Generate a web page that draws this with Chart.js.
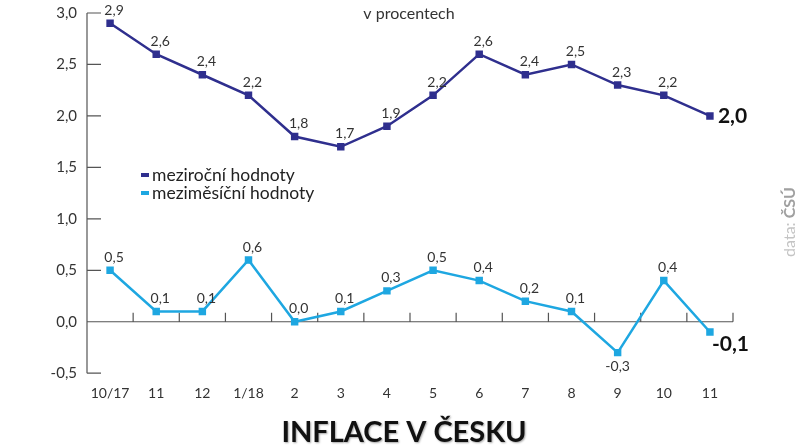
<!DOCTYPE html>
<html>
<head>
<meta charset="utf-8">
<script src="https://cdn.jsdelivr.net/npm/chart.js@4"></script>
<style>
html, body { margin: 0; padding: 0; background: #fff; }
</style>
</head>
<body>
<canvas id="myChart" width="798" height="448"></canvas>
<script>
// data
var mesice = ['10/17', '11', '12', '1/18', '2', '3', '4', '5', '6', '7', '8', '9', '10', '11'];
var mezirocni = [2.9, 2.6, 2.4, 2.2, 1.8, 1.7, 1.9, 2.2, 2.6, 2.4, 2.5, 2.3, 2.2, 2.0];
var mezimesicni = [0.5, 0.1, 0.1, 0.6, 0.0, 0.1, 0.3, 0.5, 0.4, 0.2, 0.1, -0.3, 0.4, -0.1];
var osaY = [-0.5, 0, 0.5, 1, 1.5, 2, 2.5, 3];

var TMAVA = '#2f2f8e';
var SVETLA = '#1ea7e1';
var FONT = 'Lato';

function cislo(v) {
    return Number(v).toFixed(1).replace('.', ',');
}

// osy: svisla osa vlevo, vodorovna na nule, kratke carky dovnitr
var osyPlugin = {
    id: 'osy',
    beforeDatasetsDraw: function(chart) {
        var c = chart.ctx, a = chart.chartArea;
        var xs = chart.scales.x, ys = chart.scales.y;
        var y0 = ys.getPixelForValue(0);
        c.save();
        c.strokeStyle = '#555';
        c.lineWidth = 1.2;
        c.beginPath();
        c.moveTo(a.left, a.top);
        c.lineTo(a.left, a.bottom);
        ys.ticks.forEach(function(t) {
            var y = ys.getPixelForValue(t.value);
            c.moveTo(a.left, y);
            c.lineTo(a.left + 14, y);
        });
        c.moveTo(a.left, y0);
        c.lineTo(a.right, y0);
        var krok = xs.getPixelForValue(1) - xs.getPixelForValue(0);
        for (var i = 0; i < mesice.length; i++) {
            var x = xs.getPixelForValue(i) + krok / 2;
            c.moveTo(x, y0);
            c.lineTo(x, y0 - 9);
        }
        c.stroke();
        c.restore();
    }
};

// popisky hodnot, legenda, podtitulek, zdroj, titulek
var popiskyPlugin = {
    id: 'popisky',
    afterDatasetsDraw: function(chart) {
        var c = chart.ctx;
        c.save();
        chart.data.datasets.forEach(function(ds, di) {
            var meta = chart.getDatasetMeta(di);
            meta.data.forEach(function(pt, i) {
                var v = ds.data[i];
                var posledni = i === ds.data.length - 1;
                if (posledni) {
                    c.font = 'bold 21px ' + FONT;
                    c.fillStyle = '#111';
                    c.textAlign = 'left';
                    c.textBaseline = 'middle';
                    if (di === 0) c.fillText(cislo(v), pt.x + 8, pt.y);
                    else c.fillText(cislo(v), pt.x + 2, pt.y + 12);
                } else {
                    c.font = '14px ' + FONT;
                    c.fillStyle = '#333';
                    c.textAlign = 'center';
                    c.textBaseline = 'middle';
                    if (v < 0) c.fillText(cislo(v), pt.x, pt.y + 14);
                    else c.fillText(cislo(v), pt.x + 4, pt.y - 13);
                }
            });
        });

        // legenda
        c.font = '17.5px ' + FONT;
        c.textAlign = 'left';
        c.textBaseline = 'middle';
        chart.data.datasets.forEach(function(ds, di) {
            var y = 175 + di * 18;
            c.fillStyle = ds.borderColor;
            c.fillRect(141, y - 2, 8, 4);
            c.fillStyle = '#222';
            c.fillText(ds.label, 152, y);
        });

        // podtitulek
        c.font = '16px ' + FONT;
        c.fillStyle = '#333';
        c.textAlign = 'center';
        c.fillText('v procentech', 409, 14);

        // titulek
        c.save();
        c.font = 'bold 29px ' + FONT;
        c.fillStyle = '#111';
        c.shadowColor = 'rgba(0,0,0,0.35)';
        c.shadowBlur = 2;
        c.shadowOffsetX = 1;
        c.shadowOffsetY = 1;
        c.fillText('INFLACE V ČESKU', 404, 433);
        c.restore();

        // zdroj
        c.translate(790, 222);
        c.rotate(-Math.PI / 2);
        c.font = '16px ' + FONT;
        var w1 = c.measureText('data: ').width;
        c.font = 'bold 16px ' + FONT;
        var w2 = c.measureText('ČSÚ').width;
        var x0 = -(w1 + w2) / 2;
        c.textAlign = 'left';
        c.font = '16px ' + FONT;
        c.fillStyle = '#c4c4c4';
        c.fillText('data: ', x0, 0);
        c.font = 'bold 16px ' + FONT;
        c.fillStyle = '#a0a0a0';
        c.fillText('ČSÚ', x0 + w1, 0);
        c.restore();
    }
};

var ctx = document.getElementById('myChart').getContext('2d');
var chart = new Chart(ctx, {
    type: 'line',
    data: {
        labels: mesice,
        datasets: [
            {
                label: 'meziroční hodnoty',
                data: mezirocni,
                borderColor: TMAVA,
                backgroundColor: TMAVA,
                borderWidth: 2.5,
                pointStyle: 'rect',
                pointRadius: 3.5,
                tension: 0
            },
            {
                label: 'meziměsíční hodnoty',
                data: mezimesicni,
                borderColor: SVETLA,
                backgroundColor: SVETLA,
                borderWidth: 2.5,
                pointStyle: 'rect',
                pointRadius: 3.5,
                tension: 0
            }
        ]
    },
    options: {
        responsive: false,
        animation: false,
        layout: { padding: { left: 0, right: 65, top: 0, bottom: 34 } },
        plugins: {
            legend: { display: false },
            tooltip: { enabled: false }
        },
        scales: {
            x: {
                offset: true,
                grid: { display: false, drawTicks: false },
                border: { display: false },
                ticks: {
                    color: '#333',
                    font: { family: FONT, size: 14 },
                    padding: 12,
                    maxRotation: 0,
                    autoSkip: false
                }
            },
            y: {
                min: -0.5,
                max: 3,
                grid: { display: false, drawTicks: false },
                border: { display: false },
                afterFit: function(s) {
                    s.width = 87;
                    s.paddingTop = 13;
                    s.paddingBottom = 0;
                },
                afterBuildTicks: function(s) {
                    s.ticks = osaY.map(function(v) { return { value: v }; });
                },
                ticks: {
                    color: '#333',
                    font: { family: FONT, size: 15 },
                    padding: 10,
                    callback: function(v) { return cislo(v); }
                }
            }
        }
    },
    plugins: [osyPlugin, popiskyPlugin]
});
</script>
</body>
</html>
